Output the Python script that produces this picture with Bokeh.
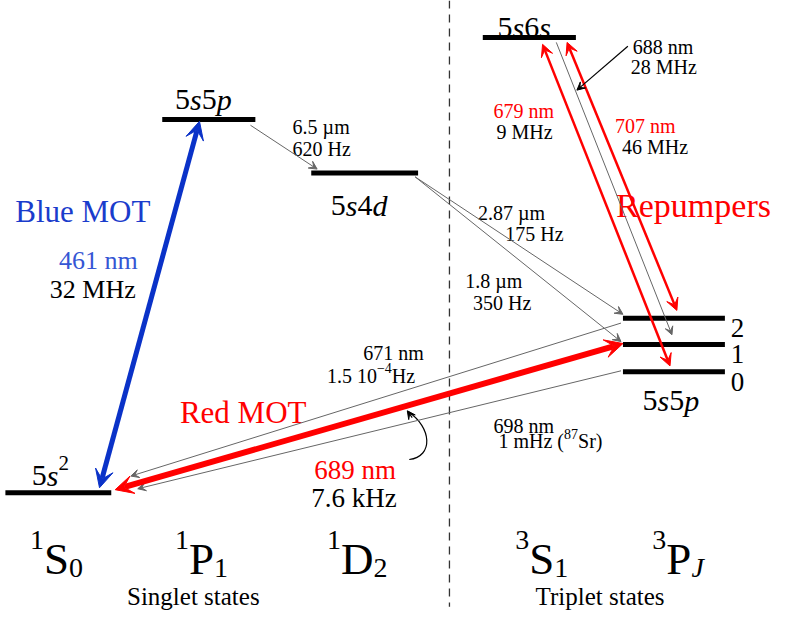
from bokeh.plotting import figure
from bokeh.models import Range1d, Arrow, VeeHead, ColumnDataSource
from bokeh.core.properties import value
from bokeh.embed import file_html
from bokeh.resources import INLINE

# ---------------- data ----------------
# energy levels: name, horizontal extent, vertical position (diagram units)
level_names = ["5s2 1S0", "5s5p 1P1", "5s4d 1D2", "5s6s 3S1", "5s5p 3P2", "5s5p 3P1", "5s5p 3P0"]
level_x_start = [5, 165, 317, 492, 635, 635, 635]
level_x_end = [113, 260, 426, 587, 739, 739, 739]
level_y = [505, 122, 177, 38, 326, 353, 381]

# thin grey decay channels
decay_names = ["1P1->1D2", "1D2->3P2", "1D2->3P1", "3P2->1S0", "3P0->1S0", "3S1->3P1"]
decay_x0 = [255, 423, 423, 633, 633, 567]
decay_y0 = [128, 181, 181, 331, 380, 43]
decay_x1 = [323, 635, 633, 133, 140, 685]
decay_y1 = [173, 322, 350, 488, 501, 343]

# laser transitions (double headed)
laser_names = ["461 nm", "689 nm", "679 nm", "707 nm"]
laser_x0 = [101, 117, 553, 578]
laser_y0 = [500, 502, 45, 43]
laser_x1 = [203, 635, 683, 690]
laser_y1 = [124, 352, 375, 318]

term_labels = [("1", "S", "0"), ("1", "P", "1"), ("1", "D", "2"), ("3", "S", "1"), ("3", "P", "J")]
group_labels = ["Singlet states", "Triplet states"]
J_labels = ["2", "1", "0"]

# ---------------- figure ----------------
W_PX, H_PX = 794, 612
p = figure(width=W_PX, height=H_PX, x_range=Range1d(0, 810), y_range=Range1d(628, 0),
           output_backend="svg", toolbar_location=None, min_border=0)
p.axis.visible = False
p.grid.visible = False
p.outline_line_color = None

SX = 810 / W_PX
SY = 628 / H_PX
K = W_PX / 810
FONT = "Liberation Serif"
RED = "red"
BLUE = "#0a32c8"
GREY = "#666666"

WID = {' ': .25, '.': .25, 'µ': .5, 'm': .778, 'n': .5, 'H': .722, 'z': .444, 'M': .889,
       'k': .5, 'S': .556, 'r': .333, '(': .333, ')': .333, '−': .564, 'P': .556, 'D': .722,
       'J': .444, 's': .389, 'p': .5, 'd': .5}

T = dict(x=[], y=[], text=[], size=[], style=[], color=[])


def rich(x, y, parts, size, color="black", align="left"):
    size = size * K
    sizes = [max(1, int(round(size * sc))) for (t, it, sc, rise) in parts]
    widths = [sum(WID.get(c, .5) for c in t) * s * SX for (t, it, sc, rise), s in zip(parts, sizes)]
    total = sum(widths)
    if align == "right":
        x -= total
    elif align == "center":
        x -= total / 2
    for (t, it, sc, rise), w, s in zip(parts, widths, sizes):
        T["x"].append(x)
        T["y"].append(y - rise * size * SY)
        T["text"].append(t)
        T["size"].append(f"{s}px")
        T["style"].append("italic" if it else "normal")
        T["color"].append(color)
        x += w


def plain(x, y, t, size, color="black", align="left"):
    rich(x, y, [(t, False, 1, 0)], size, color, align)


def cfg(t):
    return [(c, c.isalpha(), 1, 0) for c in t]

# dashed separator
p.segment(x0=[458], y0=[0], x1=[458], y1=[622], line_color="#333333", line_width=1.3,
          line_dash="8 6")

# levels
p.segment(x0=level_x_start, y0=level_y, x1=level_x_end, y1=level_y, line_color="black",
          line_width=5)

# grey decays
for x0, y0, x1, y1 in zip(decay_x0, decay_y0, decay_x1, decay_y1):
    p.add_layout(Arrow(end=VeeHead(size=8, fill_color=GREY, line_color=GREY),
                       x_start=x0, y_start=y0, x_end=x1, y_end=y1,
                       line_color=GREY, line_width=1))

# lasers
laser_cols = [BLUE, RED, RED, RED]
laser_w = [5, 6, 2.5, 2.5]
laser_head = [18, 18, 12, 12]
for x0, y0, x1, y1, c, w, hs in zip(laser_x0, laser_y0, laser_x1, laser_y1, laser_cols, laser_w, laser_head):
    p.add_layout(Arrow(start=VeeHead(size=hs, fill_color=c, line_color=c),
                       end=VeeHead(size=hs, fill_color=c, line_color=c),
                       x_start=x0, y_start=y0, x_end=x1, y_end=y1,
                       line_color=c, line_width=w))

# pointer for 688 nm
p.add_layout(Arrow(end=VeeHead(size=8, fill_color="black", line_color="black"),
                   x_start=640, y_start=47, x_end=588, y_end=92,
                   line_color="black", line_width=1.2))
# curved pointer for 689 nm
p.bezier(x0=[417], y0=[471], x1=[416], y1=[422], cx0=[442], cy0=[468], cx1=[440], cy1=[438],
         line_color="black", line_width=1.2)
p.add_layout(Arrow(end=VeeHead(size=8, fill_color="black", line_color="black"),
                   x_start=420, y_start=428, x_end=415, y_end=421,
                   line_color="black", line_width=1.2))

# level labels
rich(178, 102, cfg("5s5p"), 31)
rich(337, 210, cfg("5s4d"), 31)
rich(507, 28, cfg("5s6s"), 31)
rich(32, 487, [("5", False, 1, 0), ("s", True, 1, 0), ("2", False, 0.7, 0.4)], 31)
rich(655, 410, cfg("5s5p"), 31)
for t, yy in zip(J_labels, level_y[4:]):
    plain(745, yy + 10, t, 28)

# transition labels
plain(15, 217, "Blue MOT", 32, "#1a3ccc")
plain(140, 267, "461 nm", 27, "#3556d4", "right")
plain(138, 297, "32 MHz", 27, "black", "right")

plain(298, 130, "6.5 µm", 20)
plain(298, 152, "620 Hz", 20)
plain(487, 218, "2.87 µm", 20)
plain(515, 240, "175 Hz", 20)
plain(474, 288, "1.8 µm", 20)
plain(482, 310, "350 Hz", 20)

plain(503, 113, "679 nm", 20, RED)
plain(506, 135, "9 MHz", 20)
plain(627, 129, "707 nm", 20, RED)
plain(634, 150, "46 MHz", 20)
plain(645, 48, "688 nm", 20)
plain(643, 68, "28 MHz", 20)
plain(628, 210, "Repumpers", 35, RED)

plain(370, 362, "671 nm", 20)
rich(333, 385, [("1.5 10", False, 1, 0), ("−4", False, 0.7, 0.38), (" Hz", False, 1, 0)], 20)

plain(183, 423, "Red MOT", 32, RED)
plain(320, 482, "689 nm", 28, RED)
plain(317, 510, "7.6 kHz", 28)

plain(503, 437, "698 nm", 20)
rich(508, 452, [("1 mHz (", False, 1, 0), ("87", False, 0.7, 0.38), ("Sr)", False, 1, 0)], 20)

# term symbols
term_x = [30, 178, 333, 525, 665]
for (sup, base, sub), tx in zip(term_labels, term_x):
    rich(tx, 573, [(sup, False, 0.62, 0.42), (base, False, 1, 0), (sub, sub == "J", 0.62, -0.2)], 46)

plain(213, 612, group_labels[0], 25, "black", "center")
plain(627, 612, group_labels[1], 25, "black", "center")

src = ColumnDataSource(T)
p.text(x="x", y="y", text="text", source=src, text_font=value(FONT),
       text_font_size="size", text_font_style="style", text_color="color",
       text_align="left", text_baseline="alphabetic")

open("out.html", "w").write(file_html(p, INLINE))
